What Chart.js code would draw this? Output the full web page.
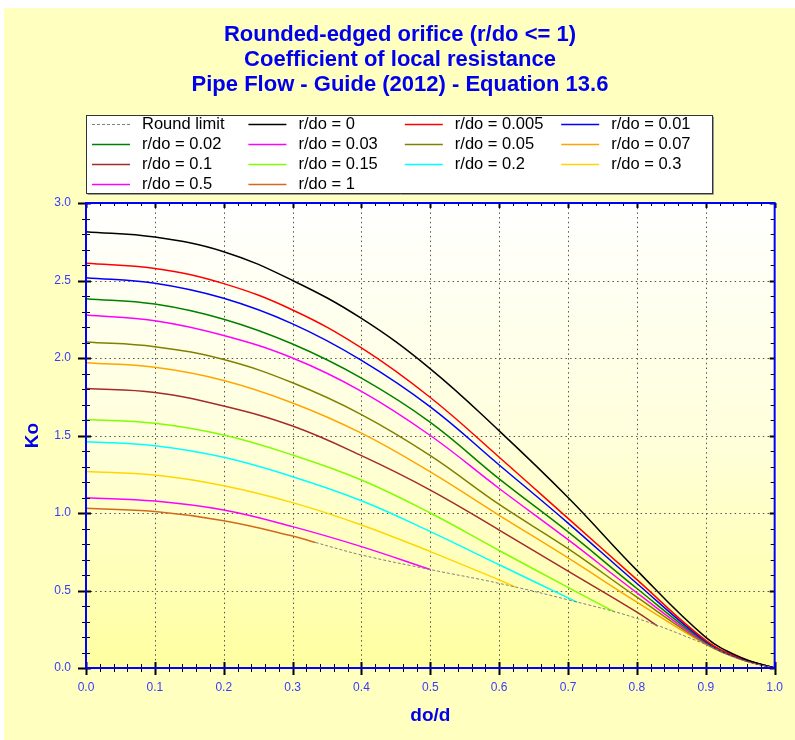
<!DOCTYPE html>
<html>
<head>
<meta charset="utf-8">
<title>Rounded-edged orifice</title>
<script src="https://cdn.jsdelivr.net/npm/chart.js@4.4.1/dist/chart.umd.min.js"></script>
<style>
    body { margin: 0; background: #ffffff; }
    #panel { position: absolute; left: 4px; top: 8px; width: 791px; height: 732px; background: #ffffc0; }
</style>
</head>
<body>
<div id="panel"><canvas id="ko" width="791" height="732"></canvas></div>
<script>
    // do/d grid used by the curves that run all the way to 1.0
    var doD = [0, 0.1, 0.2, 0.3, 0.4, 0.5, 0.6, 0.7, 0.8, 0.9, 0.95, 1.0];

    var ko_0    = [2.815, 2.78, 2.686, 2.50, 2.255, 1.93, 1.53, 1.10, 0.63, 0.198, 0.07, 0];
    var ko_005  = [2.611, 2.578, 2.48, 2.31, 2.065, 1.745, 1.36, 0.965, 0.57, 0.178, 0.065, 0];
    var ko_01   = [2.518, 2.482, 2.385, 2.22, 1.985, 1.685, 1.31, 0.935, 0.545, 0.172, 0.063, 0];
    var ko_02   = [2.383, 2.348, 2.25, 2.09, 1.87, 1.585, 1.22, 0.878, 0.513, 0.166, 0.061, 0];
    var ko_03   = [2.277, 2.24, 2.145, 2.0, 1.785, 1.50, 1.158, 0.828, 0.485, 0.162, 0.06, 0];
    var ko_05   = [2.103, 2.073, 1.99, 1.84, 1.635, 1.37, 1.055, 0.77, 0.457, 0.157, 0.058, 0];
    var ko_07   = [1.97, 1.94, 1.855, 1.71, 1.515, 1.265, 0.985, 0.71, 0.425, 0.152, 0.057, 0];

    // curves that stop where they meet the round limit
    var x_1  = [0, 0.1, 0.2, 0.3, 0.4, 0.5, 0.6, 0.7, 0.8, 0.83];
    var ko_1 = [1.804, 1.778, 1.69, 1.561, 1.37, 1.148, 0.89, 0.625, 0.36, 0.27];
    var x_15  = [0, 0.1, 0.2, 0.3, 0.4, 0.5, 0.6, 0.7, 0.768];
    var ko_15 = [1.604, 1.579, 1.503, 1.374, 1.213, 1.0, 0.758, 0.52, 0.36];
    var x_2  = [0, 0.1, 0.2, 0.3, 0.4, 0.5, 0.6, 0.713];
    var ko_2 = [1.46, 1.434, 1.359, 1.234, 1.079, 0.88, 0.666, 0.425];
    var x_3  = [0, 0.1, 0.2, 0.3, 0.4, 0.5, 0.6, 0.624];
    var ko_3 = [1.267, 1.245, 1.176, 1.067, 0.923, 0.751, 0.568, 0.522];
    var x_5  = [0, 0.1, 0.2, 0.3, 0.4, 0.5];
    var ko_5 = [1.099, 1.077, 1.019, 0.912, 0.783, 0.635];
    var x_10  = [0, 0.1, 0.2, 0.3, 0.333];
    var ko_10 = [1.03, 1.009, 0.95, 0.852, 0.81];

    var x_round  = [0.333, 0.4, 0.5, 0.6, 0.7, 0.8, 0.9, 0.95, 1.0];
    var ko_round = [0.81, 0.729, 0.635, 0.546, 0.44, 0.32, 0.152, 0.055, 0];

    var xTicks = [0, 1, 0.1];
    var yTicks = [0, 3, 0.5];

    var titleLines = ['Rounded-edged orifice (r/do <= 1)', 'Coefficient of local resistance', 'Pipe Flow - Guide (2012) - Equation 13.6'];

    var FONT = "'Liberation Sans', Arial, sans-serif";

    function pts(xs, ys) {
        return xs.map(function (x, i) { return {x: x, y: ys[i]}; });
    }

    function line(label, xs, ys, color, dash) {
        return {
            label: label,
            data: pts(xs, ys),
            borderColor: color,
            backgroundColor: color,
            borderWidth: dash ? 1 : 1.5,
            borderDash: dash || [],
            pointRadius: 0,
            fill: false,
            tension: 0.4
        };
    }

    var datasets = [
        line('Round limit', x_round, ko_round, '#808080', [3, 2]),
        line('r/do = 0', doD, ko_0, '#000000'),
        line('r/do = 0.005', doD, ko_005, '#ff0000'),
        line('r/do = 0.01', doD, ko_01, '#0000ff'),
        line('r/do = 0.02', doD, ko_02, '#008000'),
        line('r/do = 0.03', doD, ko_03, '#ff00ff'),
        line('r/do = 0.05', doD, ko_05, '#808000'),
        line('r/do = 0.07', doD, ko_07, '#ffa500'),
        line('r/do = 0.1', x_1, ko_1, '#a52a2a'),
        line('r/do = 0.15', x_15, ko_15, '#7fff00'),
        line('r/do = 0.2', x_2, ko_2, '#00ffff'),
        line('r/do = 0.3', x_3, ko_3, '#ffd700'),
        line('r/do = 0.5', x_5, ko_5, '#ff00ff'),
        line('r/do = 1', x_10, ko_10, '#d2691e')
    ];

    // plot background, dotted grid, ticks, blue frame and the boxed legend
    var decor = {
        id: 'decor',
        beforeDatasetsDraw: function (chart) {
            var ctx = chart.ctx, a = chart.chartArea;
            var sx = chart.scales.x, sy = chart.scales.y;
            ctx.save();
            var g = ctx.createLinearGradient(0, a.top, 0, a.bottom);
            g.addColorStop(0, '#ffffff');
            g.addColorStop(0.5, '#ffffdc');
            g.addColorStop(1, '#ffffa0');
            ctx.fillStyle = g;
            ctx.fillRect(a.left, a.top, a.right - a.left, a.bottom - a.top);

            ctx.strokeStyle = '#555555';
            ctx.lineWidth = 1;
            ctx.setLineDash([1.5, 3.2]);
            ctx.beginPath();
            for (var i = 1; i < 10; i++) {
                var px = Math.round(sx.getPixelForValue(i / 10)) + 0.5;
                ctx.moveTo(px, a.top);
                ctx.lineTo(px, a.bottom);
            }
            for (var j = 1; j < 6; j++) {
                var py = Math.round(sy.getPixelForValue(j / 2)) + 0.5;
                ctx.moveTo(a.left, py);
                ctx.lineTo(a.right, py);
            }
            ctx.stroke();
            ctx.restore();
        },
        afterDraw: function (chart) {
            var ctx = chart.ctx, a = chart.chartArea;
            var sx = chart.scales.x, sy = chart.scales.y;
            ctx.save();
            ctx.strokeStyle = '#000000';
            for (var i = 0; i <= 50; i++) {
                var px = Math.round(sx.getPixelForValue(i / 50)) + 0.5;
                var big = i % 5 === 0;
                ctx.lineWidth = big ? 2 : 1;
                ctx.beginPath();
                ctx.moveTo(px, a.bottom - (big ? 6 : 4));
                ctx.lineTo(px, a.bottom + (big ? 7 : 4));
                ctx.moveTo(px, a.top);
                ctx.lineTo(px, a.top + (big ? 5 : 3));
                ctx.stroke();
            }
            for (var j = 0; j <= 30; j++) {
                var py = Math.round(sy.getPixelForValue(j / 10)) + 0.5;
                var bigY = j % 5 === 0;
                ctx.lineWidth = bigY ? 2 : 1;
                ctx.beginPath();
                ctx.moveTo(a.left - (bigY ? 8 : 4), py);
                ctx.lineTo(a.left + (bigY ? 5 : 4), py);
                ctx.moveTo(a.right - (bigY ? 5 : 4), py);
                ctx.lineTo(a.right, py);
                ctx.stroke();
            }
            ctx.strokeStyle = '#0000ff';
            ctx.lineWidth = 2;
            ctx.strokeRect(a.left, a.top, a.right - a.left, a.bottom - a.top);

            // legend box, 4 columns
            var bx = a.left, by = 107, bw = 626, bh = 78;
            ctx.fillStyle = '#ffffff';
            ctx.fillRect(bx, by, bw, bh);
            ctx.strokeStyle = '#999999';
            ctx.lineWidth = 1;
            ctx.beginPath();
            ctx.moveTo(bx + 1.5, by + bh + 1.5);
            ctx.lineTo(bx + bw + 1.5, by + bh + 1.5);
            ctx.lineTo(bx + bw + 1.5, by + 1.5);
            ctx.stroke();
            ctx.strokeStyle = '#333333';
            ctx.strokeRect(bx + 0.5, by + 0.5, bw, bh);

            ctx.font = '16.5px ' + FONT;
            ctx.textBaseline = 'middle';
            ctx.textAlign = 'left';
            chart.data.datasets.forEach(function (ds, k) {
                var col = k % 4, row = Math.floor(k / 4);
                var lx = bx + 6 + col * 156.4;
                var ly = Math.round(by + 8.5 + row * 20) + 0.5;
                ctx.strokeStyle = ds.borderColor;
                ctx.lineWidth = ds.borderWidth;
                ctx.setLineDash(ds.borderDash);
                ctx.beginPath();
                ctx.moveTo(lx, ly);
                ctx.lineTo(lx + 38, ly);
                ctx.stroke();
                ctx.setLineDash([]);
                ctx.fillStyle = '#000000';
                ctx.fillText(ds.label, lx + 50, ly);
            });
            ctx.restore();
        }
    };

    var ctx = document.getElementById('ko').getContext('2d');
    var chart = new Chart(ctx, {
        type: 'line',
        data: {datasets: datasets},
        plugins: [decor],
        options: {
            responsive: false,
            animation: false,
            devicePixelRatio: 1,
            layout: {padding: {left: 17, right: 16, top: 0, bottom: 0}},
            plugins: {
                legend: {display: false},
                tooltip: {enabled: false},
                title: {
                    display: true,
                    text: titleLines,
                    color: '#0000ee',
                    font: {family: FONT, size: 22, weight: 'bold', lineHeight: 25 / 22},
                    padding: {top: 14, bottom: 106}
                }
            },
            scales: {
                x: {
                    type: 'linear',
                    min: xTicks[0],
                    max: xTicks[1],
                    afterFit: function (s) { s.height = 72; },
                    ticks: {
                        stepSize: xTicks[2],
                        padding: 12,
                        color: '#3a3aff',
                        font: {family: FONT, size: 12},
                        maxRotation: 0,
                        callback: function (v) { return v.toFixed(1); }
                    },
                    grid: {display: false, drawTicks: false},
                    border: {display: false},
                    title: {
                        display: true,
                        text: 'do/d',
                        color: '#0000ee',
                        font: {family: FONT, size: 19, weight: 'bold'},
                        padding: {top: 0, bottom: 13}
                    }
                },
                y: {
                    type: 'linear',
                    min: yTicks[0],
                    max: yTicks[1],
                    afterFit: function (s) { s.width = 65; },
                    ticks: {
                        stepSize: yTicks[2],
                        padding: 15,
                        color: '#3a3aff',
                        font: {family: FONT, size: 12},
                        callback: function (v) { return v.toFixed(1); }
                    },
                    grid: {display: false, drawTicks: false},
                    border: {display: false},
                    title: {
                        display: true,
                        text: 'Ko',
                        color: '#0000ee',
                        font: {family: FONT, size: 19, weight: 'bold'},
                        padding: {top: 0, bottom: 0}
                    }
                }
            }
        }
    });
</script>
</body>
</html>
